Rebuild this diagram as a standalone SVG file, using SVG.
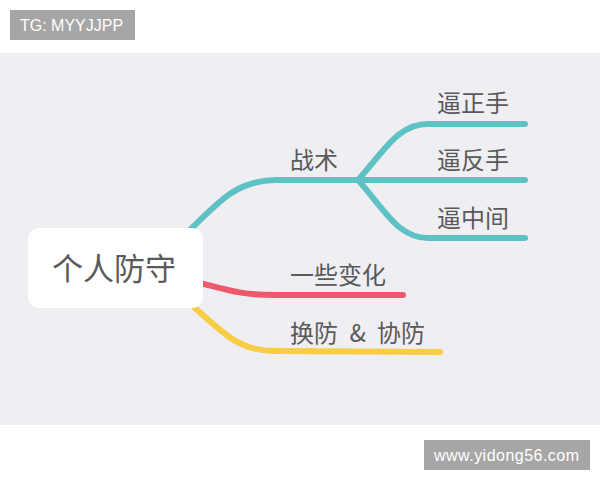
<svg xmlns="http://www.w3.org/2000/svg" width="600" height="480" viewBox="0 0 600 480">
<style>
.t{font-family:"Noto Sans CJK SC","Noto Sans",sans-serif;fill:#5a5a5a;font-size:24px}
.big{font-size:31px}
.lbl{font-family:"Liberation Sans",Arial,sans-serif;fill:#fff;font-size:16px}
.c{fill:none;stroke-linecap:round}
.teal{stroke:#5ec2c5;stroke-width:6}
</style>
<rect width="600" height="480" fill="#fff"/>
<rect x="0" y="53" width="600" height="372" fill="#efeef2"/>
<g id="connectors">
<path class="c teal" d="M188,232 C220,200 238,180 276,180 L525,180"/>
<path class="c teal" d="M358,180 C385,150 398,124 428,124 L525,124"/>
<path class="c teal" d="M358,180 C385,210 398,238 428,238 L525,238"/>
<path class="c" stroke="#ee5a6b" stroke-width="6" d="M200,283 C235,292 245,295 275,295 L403,295"/>
<path class="c" stroke="#f6cd45" stroke-width="6" d="M195,308 C225,335 240,351 275,351 L440,352"/>
</g>
<g id="root">
<rect x="28" y="228" width="175" height="80" rx="11" fill="#fff"/>
<text class="t big" x="114" y="280" text-anchor="middle">个人防守</text>
</g>
<g id="n-zhanshu"><text class="t" x="290" y="169">战术</text></g>
<g id="n-zhengshou"><text class="t" x="437" y="112">逼正手</text></g>
<g id="n-fanshou"><text class="t" x="437" y="169">逼反手</text></g>
<g id="n-zhongjian"><text class="t" x="437" y="227">逼中间</text></g>
<g id="n-bianhua"><text class="t" x="290" y="284">一些变化</text></g>
<g id="n-huanfang"><text class="t" x="290" y="342" xml:space="preserve" word-spacing="6">换防 &amp; 协防</text></g>
<g id="wm1">
<rect x="10" y="10" width="125" height="30" fill="#a6a6a6"/>
<text class="lbl" x="20" y="31">TG: MYYJJPP</text>
</g>
<g id="wm2">
<rect x="424" y="440" width="166" height="30" fill="#a6a6a6"/>
<text class="lbl" x="434" y="461" textLength="145">www.yidong56.com</text>
</g>
</svg>
